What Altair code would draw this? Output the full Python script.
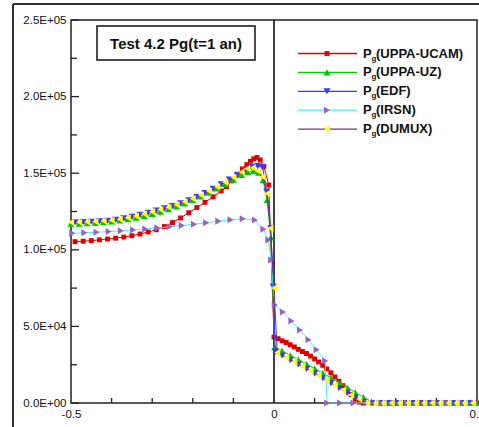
import json
import altair as alt
import pandas as pd

FONT = "Liberation Sans"

# ---- gas pressure profiles Pg(x) at t = 1 year ----
ucam_x = [-0.49, -0.47, -0.45, -0.43, -0.41, -0.39, -0.37, -0.35, -0.33, -0.31,
          -0.29, -0.27, -0.25, -0.23, -0.21, -0.19, -0.17, -0.15, -0.13, -0.117,
          -0.104, -0.091, -0.078, -0.067, -0.058, -0.05, -0.042, -0.034, -0.025, -0.013,
          0.0, 0.01, 0.02, 0.03, 0.04, 0.05, 0.06, 0.07, 0.08, 0.09,
          0.10, 0.11, 0.12, 0.13, 0.14, 0.15, 0.16, 0.17, 0.18, 0.19,
          0.20, 0.21, 0.22, 0.24, 0.26, 0.28, 0.30, 0.32, 0.34, 0.36,
          0.38, 0.40, 0.42, 0.44, 0.46, 0.48, 0.50]
ucam_p = [105300, 105600, 106000, 106500, 107000, 107600, 108300, 109200, 110300, 111600,
          113100, 115200, 117800, 120800, 124200, 127600, 131000, 134600, 138400, 141200,
          145000, 149000, 152800, 155600, 157800, 159400, 160300, 158600, 154500, 142300,
          43000, 42000, 40600, 39500, 38000, 36600, 35000, 33600, 32300, 30600,
          28800, 26800, 24600, 22200, 19700, 17000, 14200, 11300, 8400, 5500,
          2800, 600, 0, 0, 0, 0, 0, 0, 0, 0,
          0, 0, 0, 0, 0, 0, 0]

uz_x = [-0.50, -0.48, -0.46, -0.44, -0.42, -0.40, -0.38, -0.36, -0.34, -0.32,
        -0.30, -0.28, -0.26, -0.24, -0.22, -0.20, -0.18, -0.16, -0.14, -0.12,
        -0.10, -0.08, -0.064, -0.05, -0.038, -0.027, -0.017, -0.008, 0.002, 0.02,
        0.04, 0.06, 0.08, 0.10, 0.12, 0.14, 0.16, 0.18, 0.20, 0.22,
        0.24, 0.26, 0.28, 0.30, 0.32, 0.34, 0.36, 0.38, 0.40, 0.42,
        0.44, 0.46, 0.48, 0.50]
uz_p = [117000, 117100, 117300, 117600, 118000, 118500, 119200, 120000, 121000, 122100,
        123400, 124900, 126500, 128300, 130300, 132500, 134800, 137300, 140000, 142900,
        145900, 148800, 150800, 151500, 150300, 145500, 132500, 108000, 36500, 34000,
        31200, 28300, 25400, 22500, 19500, 16500, 13300, 10100, 7000, 3800,
        1000, 0, 0, 0, 0, 0, 0, 0, 0, 0,
        0, 0, 0, 0]

edf_x = [-0.49, -0.47, -0.45, -0.43, -0.41, -0.39, -0.37, -0.35, -0.33, -0.31,
         -0.29, -0.27, -0.25, -0.23, -0.21, -0.19, -0.17, -0.15, -0.13, -0.11,
         -0.09, -0.07, -0.055, -0.04, -0.028, -0.018, -0.008, -0.002, 0.003, 0.02,
         0.04, 0.06, 0.08, 0.10, 0.12, 0.14, 0.16, 0.18, 0.20, 0.22,
         0.24, 0.26, 0.28, 0.30, 0.32, 0.34, 0.36, 0.38, 0.40, 0.42,
         0.44, 0.46, 0.48]
edf_p = [118000, 118100, 118300, 118600, 119000, 119600, 120500, 121600, 122900, 124200,
         125600, 127000, 128500, 130300, 132300, 134500, 137000, 139800, 142800, 145800,
         148900, 152000, 154000, 154600, 153800, 138000, 114000, 76000, 33500, 31000,
         28000, 25200, 22300, 19300, 16200, 13000, 9800, 6600, 3500, 800,
         0, 0, 0, 0, 0, 0, 0, 0, 0, 0,
         0, 0, 0]

irsn_x = [-0.497, -0.467, -0.437, -0.407, -0.377, -0.347, -0.317, -0.287, -0.257, -0.227,
          -0.197, -0.167, -0.137, -0.107, -0.077, -0.047, -0.026, -0.014, -0.007, 0.002,
          0.022, 0.043, 0.064, 0.085, 0.105, 0.126, 0.131, 0.163, 0.196, 0.229,
          0.262, 0.295, 0.328, 0.361, 0.394, 0.427, 0.46, 0.493]
irsn_p = [110800, 111100, 111500, 111900, 112400, 113000, 113600, 114300, 115000, 115800,
          116700, 117700, 118700, 119600, 120300, 119400, 113400, 106400, 93300, 64000,
          59400, 53500, 47600, 41300, 34800, 27500, 0, 0, 0, 0,
          0, 0, 0, 0, 0, 0, 0, 0]

dumux_x = [-0.50, -0.48, -0.46, -0.44, -0.42, -0.40, -0.38, -0.36, -0.34, -0.32,
           -0.30, -0.28, -0.26, -0.24, -0.22, -0.20, -0.18, -0.16, -0.14, -0.12,
           -0.10, -0.08, -0.066, -0.052, -0.04, -0.029, -0.017, -0.009, 0.0, 0.008,
           0.03, 0.05, 0.07, 0.09, 0.11, 0.13, 0.15, 0.17, 0.19, 0.21,
           0.23, 0.25, 0.27, 0.29, 0.31, 0.33, 0.35, 0.37, 0.39, 0.41,
           0.43, 0.45, 0.47, 0.49]
dumux_p = [118000, 118000, 118200, 118400, 118800, 119300, 120000, 120900, 122100, 123500,
           124900, 126300, 127800, 129500, 131300, 133400, 135700, 138300, 141100, 144100,
           147300, 150800, 153000, 153500, 151500, 147700, 136800, 114000, 75000, 33000,
           29800, 27000, 24000, 21000, 18000, 14800, 11600, 8400, 5300, 2400,
           200, 0, 0, 0, 0, 0, 0, 0, 0, 0,
           0, 0, 0, 0]

series_names = ["UPPA-UCAM", "UPPA-UZ", "EDF", "IRSN", "DUMUX"]
series_data = [(ucam_x, ucam_p), (uz_x, uz_p), (edf_x, edf_p), (irsn_x, irsn_p), (dumux_x, dumux_p)]

# axis ticks and labels
y_label_values = [0, 50000, 100000, 150000, 200000, 250000]
y_label_texts = ["0.0E+00", "5.0E+04", "1.0E+05", "1.5E+05", "2.0E+05", "2.5E+05"]
y_minor_values = [25000, 75000, 125000, 175000, 225000]
x_label_values = [-0.5, 0.0, 0.5]
x_label_texts = ["-0.5", "0", "0.5"]
x_minor_values = [-0.4, -0.3, -0.2, -0.1, 0.1, 0.2, 0.3, 0.4]

title_text = "Test 4.2 Pg(t=1 an)"

# per-series drawing style: line colour, marker colour, marker shape, marker size
styles = [
    dict(line="#E00000", fill="#E00000", shape="square", size=24),
    dict(line="#00D000", fill="#00C400", shape="triangle-up", size=50),
    dict(line="#3535FF", fill="#3838FF", shape="triangle-down", size=50),
    dict(line="#45F0FF", fill="#9A62C0", shape="triangle-right", size=50),
    dict(line="#7A2E8E", fill="#FFFF10", shape="triangle-left", size=50),
]

W, H = 406, 383
x_scale = alt.Scale(domain=[-0.5, 0.5], nice=False, zero=False)
y_scale = alt.Scale(domain=[0, 250000], nice=False, zero=False)


def label_expr(values, texts):
    return f"{json.dumps(texts)}[indexof({json.dumps(values)}, datum.value)]"


x_axis = alt.Axis(values=x_label_values, labelExpr=label_expr(x_label_values, x_label_texts),
                  title=None, ticks=False, tickSize=0, domain=False, grid=False,
                  labelFont=FONT, labelFontSize=11.5, labelColor="#111", labelPadding=5,
                  labelFlush=False, labelOverlap=False)
y_axis = alt.Axis(values=y_label_values, labelExpr=label_expr(y_label_values, y_label_texts),
                  title=None, ticks=False, tickSize=0, domain=False, grid=False,
                  labelFont=FONT, labelFontSize=11.5, labelColor="#111", labelPadding=5,
                  labelFlush=False, labelOverlap=False)

layers = []

# inward tick marks
y_ticks = pd.DataFrame({"p": y_label_values + y_minor_values,
                        "major": [True] * len(y_label_values) + [False] * len(y_minor_values)})
layers.append(alt.Chart(y_ticks[y_ticks.major]).mark_rule(color="#222", strokeWidth=1.3).encode(
    y=alt.Y("p:Q", scale=y_scale, axis=y_axis), x=alt.value(0), x2=alt.value(8)))
layers.append(alt.Chart(y_ticks[~y_ticks.major]).mark_rule(color="#222", strokeWidth=1.3).encode(
    y=alt.Y("p:Q", scale=y_scale), x=alt.value(0), x2=alt.value(6)))
x_ticks = pd.DataFrame({"x": x_minor_values})
layers.append(alt.Chart(x_ticks).mark_rule(color="#222", strokeWidth=1.3).encode(
    x=alt.X("x:Q", scale=x_scale, axis=x_axis), y=alt.value(H), y2=alt.value(H - 5)))

# interface at x = 0
layers.append(alt.Chart(pd.DataFrame({"x": [0.0]})).mark_rule(color="#111", strokeWidth=1.6).encode(
    x=alt.X("x:Q", scale=x_scale)))

# data series: line then markers
for name, (xs, ps), st in zip(series_names, series_data, styles):
    df = pd.DataFrame({"x": xs, "p": ps})
    base = alt.Chart(df)
    layers.append(base.mark_line(color=st["line"], strokeWidth=1).encode(
        x=alt.X("x:Q", scale=x_scale), y=alt.Y("p:Q", scale=y_scale), order="x:Q"))
    layers.append(base.mark_point(filled=True, shape=st["shape"], size=st["size"],
                                  color=st["fill"], opacity=1).encode(
        x=alt.X("x:Q", scale=x_scale), y=alt.Y("p:Q", scale=y_scale)))

# boxed title
layers.append(alt.Chart(pd.DataFrame({"k": [0]})).mark_rect(
    fill="white", stroke="#111", strokeWidth=1.5).encode(
    x=alt.value(26), x2=alt.value(184), y=alt.value(6), y2=alt.value(40)))
layers.append(alt.Chart(pd.DataFrame({"k": [0]})).mark_text(
    font=FONT, fontSize=15, fontWeight="bold", color="#111", align="center", baseline="middle").encode(
    x=alt.value(105), y=alt.value(23.5), text=alt.value(title_text)))

# legend: line sample, marker, P with subscript g, series name
for i, (name, st) in enumerate(zip(series_names, styles)):
    yy = 33.5 + 18.9 * i
    one = alt.Chart(pd.DataFrame({"k": [0]}))
    layers.append(one.mark_rule(color=st["line"], strokeWidth=1.3).encode(
        x=alt.value(227), x2=alt.value(286), y=alt.value(yy)))
    layers.append(one.mark_point(filled=True, shape=st["shape"], size=st["size"],
                                 color=st["fill"], opacity=1).encode(
        x=alt.value(256), y=alt.value(yy)))
    layers.append(one.mark_text(font=FONT, fontSize=13, fontWeight="bold", color="#111",
                                align="left", baseline="middle").encode(
        x=alt.value(292), y=alt.value(yy), text=alt.value("P")))
    layers.append(one.mark_text(font=FONT, fontSize=8, fontWeight="bold", color="#111",
                                align="left", baseline="middle").encode(
        x=alt.value(300.5), y=alt.value(yy + 5), text=alt.value("g")))
    layers.append(one.mark_text(font=FONT, fontSize=13, fontWeight="bold", color="#111",
                                align="left", baseline="middle").encode(
        x=alt.value(305), y=alt.value(yy), text=alt.value(f"({name})")))

# outer frame around the figure
frame = alt.Chart(pd.DataFrame({"k": [0]}))
layers.append(frame.mark_rule(color="#333", strokeWidth=2).encode(
    x=alt.value(-58), x2=alt.value(420), y=alt.value(-16)))
layers.append(frame.mark_rule(color="#333", strokeWidth=2).encode(
    x=alt.value(-58), y=alt.value(-16), y2=alt.value(420)))

chart = alt.layer(*layers).properties(
    width=W, height=H,
    autosize=alt.AutoSizeParams(type="none"),
    padding={"left": 71, "top": 20, "right": 2, "bottom": 24},
    background="white",
).configure_view(stroke="#222", strokeWidth=1.5)

chart.save("out.html", embed_options={"renderer": "svg", "actions": False})
